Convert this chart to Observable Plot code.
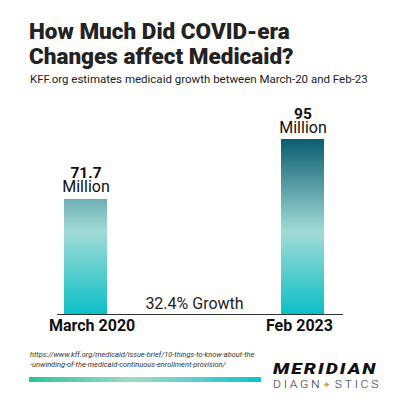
<!DOCTYPE html>
<html>
<head>
<meta charset="utf-8">
<script src="https://cdn.jsdelivr.net/npm/d3@7"></script>
<script src="https://cdn.jsdelivr.net/npm/@observablehq/plot@0.6"></script>
<style>
  html, body { margin: 0; padding: 0; background: #fff; }
  #page { position: relative; width: 400px; height: 400px; overflow: hidden; font-family: Roboto, "Noto Sans", sans-serif; }
  #title { position: absolute; left: 29px; top: 19px; font-size: 22.5px; font-weight: 900; line-height: 24.5px; color: #232323; white-space: nowrap; }
  #subtitle { position: absolute; left: 30px; top: 72px; font-size: 11.5px; color: #222; white-space: nowrap; }
  #chart { position: absolute; left: 0; top: 95px; }
  #source { position: absolute; left: 30px; top: 350px; font-size: 7.45px; font-style: italic; color: #333; line-height: 10px; white-space: nowrap; }
  #gbar { position: absolute; left: 29px; top: 377px; width: 232px; height: 5px; background: linear-gradient(90deg, #29c49a 0%, #a3d9c9 45%, #55cdc8 75%, #08c4cc 100%); }
  #logo1 { position: absolute; left: 273px; top: 361px; font-size: 14px; font-weight: 900; font-style: italic; color: #111; letter-spacing: 1.5px; transform: scaleX(1.37); transform-origin: left; white-space: nowrap; }
  #logo2 { position: absolute; left: 273px; top: 379px; font-size: 10px; font-weight: 300; color: #333; letter-spacing: 2.2px; transform: scaleX(1.22); transform-origin: left; white-space: nowrap; }
  #logo2 .star { color: #c9a449; font-family: "DejaVu Sans"; font-size: 9px; }
</style>
</head>
<body>
<div id="page">
  <div id="title">How Much Did COVID-era<br>Changes affect Medicaid?</div>
  <div id="subtitle">KFF.org estimates medicaid growth between March-20 and Feb-23</div>
  <div id="chart"></div>
  <div id="source">https://www.kff.org/medicaid/issue-brief/10-things-to-know-about-the<br>-unwinding-of-the-medicaid-continuous-enrollment-provision/</div>
  <div id="gbar"></div>
  <div id="logo1">MERIDIAN</div>
  <div id="logo2">DIAGN<span class="star">✦</span>STICS</div>
</div>
<script>
const periods = ["March 2020", "Feb 2023"];
const enrollment = [71.7, 95];          // millions
const valueLabels = ["71.7", "95"];
const unitLabel = "Million";
const growthLabel = "32.4% Growth";
const yBase = 27;                        // visual baseline of the chart's value axis

const data = periods.map((p, i) => ({period: p, value: enrollment[i], label: valueLabels[i]}));

const chart = Plot.plot({
  width: 400,
  height: 245,
  marginTop: 44,
  marginBottom: 26,
  marginLeft: 57,
  marginRight: 57,
  style: {fontFamily: "Roboto, sans-serif", background: "transparent"},
  x: {domain: periods, paddingInner: 0.8, paddingOuter: 0.056, align: 0.29, label: null},
  y: {domain: [yBase, 95], clamp: true, axis: null},
  marks: [
    Plot.barY(data, {x: "period", y1: yBase, y2: "value", fill: "url(#barGrad)"}),
    Plot.ruleY([yBase], {stroke: "#333", strokeWidth: 1}),
    Plot.text(data, {x: "period", y: "value", text: () => unitLabel, dy: -7, lineAnchor: "bottom", fontSize: 16, fill: "#111"}),
    Plot.text(data, {x: "period", y: "value", text: "label", dy: -21, lineAnchor: "bottom", fontSize: 15.5, fontWeight: "bold", fill: "#111"}),
    Plot.text([growthLabel], {frameAnchor: "bottom", dx: -6, dy: -6, lineAnchor: "bottom", fontSize: 16, fill: "#222"}),
    Plot.axisX({tickSize: 0, tickPadding: 5, fontSize: 16, fontWeight: "bold", fill: "#111", textAnchor: "start", dx: -37, label: null})
  ]
});

// gradient in user space spanning the tallest bar
const ys = chart.scale("y");
const yTop = ys.apply(95), yBot = ys.apply(yBase);
const ns = "http://www.w3.org/2000/svg";
const defs = document.createElementNS(ns, "defs");
defs.innerHTML = `<linearGradient id="barGrad" gradientUnits="userSpaceOnUse" x1="0" x2="0" y1="${yTop}" y2="${yBot}">
  <stop offset="0" stop-color="#0a5e72"/>
  <stop offset="0.53" stop-color="#a2dbd6"/>
  <stop offset="1" stop-color="#0cbfc7"/>
</linearGradient>`;
chart.insertBefore(defs, chart.firstChild);
document.getElementById("chart").appendChild(chart);
</script>
</body>
</html>
